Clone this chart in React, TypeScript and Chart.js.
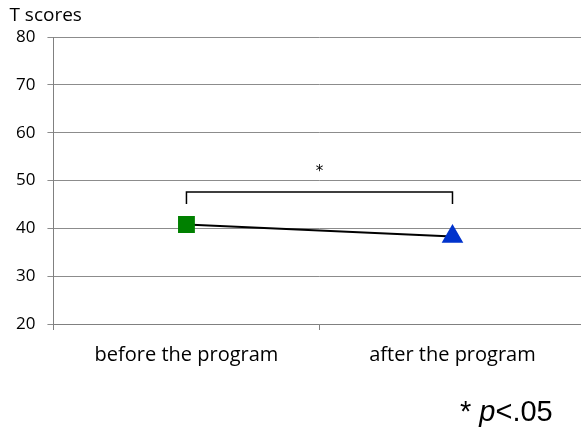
import React, { useEffect, useRef } from "react";
import { Chart, registerables } from "chart.js";

Chart.register(...registerables);

const categories = ["before the program", "after the program"];
const tScores = [40.8, 38.3];
const pointStyles = ["rect", "triangle"];
const pointColors = ["#008000", "#0033cc"];
const yTicks = [20, 30, 40, 50, 60, 70, 80];
const bracketTop = 47.6;
const bracketEnd = 45.1;
const starValue = 52.2;
const yTitle = "T scores";
const sigNote = ["* ", "p", "<.05"];

const annotationPlugin = {
  id: "annot",
  afterDraw(chart: any) {
    const { ctx, scales, chartArea } = chart;
    const x = scales.x;
    const y = scales.y;
    const x0 = x.getPixelForValue(0);
    const x1 = x.getPixelForValue(1);
    const yt = y.getPixelForValue(bracketTop);
    const ye = y.getPixelForValue(bracketEnd);
    ctx.save();
    ctx.strokeStyle = "#000";
    ctx.lineWidth = 1.5;
    ctx.beginPath();
    ctx.moveTo(x0, ye);
    ctx.lineTo(x0, yt);
    ctx.lineTo(x1, yt);
    ctx.lineTo(x1, ye);
    ctx.stroke();
    ctx.fillStyle = "#000";
    ctx.font = "15px 'DejaVu Sans'";
    ctx.textAlign = "center";
    ctx.textBaseline = "middle";
    ctx.fillText("*", (x0 + x1) / 2, y.getPixelForValue(starValue) + 2);
    // y title
    ctx.font = "19px 'Open Sans'";
    ctx.textAlign = "left";
    ctx.textBaseline = "middle";
    ctx.fillText(yTitle, chartArea.left - 44, chartArea.top - 21);
    // significance note
    ctx.font = "29px 'Liberation Sans'";
    ctx.textBaseline = "alphabetic";
    let px = 460;
    const py = 421;
    ctx.fillText(sigNote[0], px, py);
    px += ctx.measureText(sigNote[0]).width;
    ctx.font = "italic 29px 'Liberation Sans'";
    ctx.fillText(sigNote[1], px, py);
    px += ctx.measureText(sigNote[1]).width;
    ctx.font = "29px 'Liberation Sans'";
    ctx.fillText(sigNote[2], px, py);
    ctx.restore();
  },
};

export default function App() {
  const ref = useRef<HTMLCanvasElement>(null);
  useEffect(() => {
    if (!ref.current) return;
    const chart = new Chart(ref.current, {
      type: "line",
      data: {
        labels: categories,
        datasets: [
          {
            data: tScores,
            borderColor: "#000",
            borderWidth: 2,
            pointStyle: pointStyles as any,
            pointBackgroundColor: pointColors,
            pointBorderColor: pointColors,
            pointRadius: [10.5, 10.5],
            pointHoverRadius: [10.5, 10.5],
            tension: 0,
          },
        ],
      },
      options: {
        animation: false,
        responsive: false,
        maintainAspectRatio: false,
        events: [],
        layout: { padding: { top: 37, left: 4, right: 0, bottom: 54 } },
        plugins: { legend: { display: false }, tooltip: { enabled: false } },
        scales: {
          x: {
            type: "category",
            offset: true,
            grid: {
              offset: true,
              drawOnChartArea: false,
              drawTicks: true,
              tickLength: 6,
              color: "#808080",
            },
            border: { color: "#808080", width: 1 },
            ticks: {
              color: "#000",
              font: { family: "'Open Sans'", size: 20 },
              padding: 13,
            },
          },
          y: {
            min: 20,
            max: 80,
            afterBuildTicks: (axis: any) => {
              axis.ticks = yTicks.map((v) => ({ value: v }));
            },
            grid: { color: "#8c8c8c", tickLength: 6, lineWidth: 1 },
            border: { color: "#808080", width: 1 },
            ticks: {
              color: "#000",
              font: { family: "'Open Sans'", size: 17 },
              padding: 12,
            },
          },
        },
      },
      plugins: [annotationPlugin],
    });
    return () => chart.destroy();
  }, []);
  return (
    <div style={{ position: "absolute", left: 0, top: 0, width: 581, height: 434, overflow: "hidden", background: "#fff" }}>
      <canvas ref={ref} width={598} height={434} style={{ display: "block" }} />
    </div>
  );
}
